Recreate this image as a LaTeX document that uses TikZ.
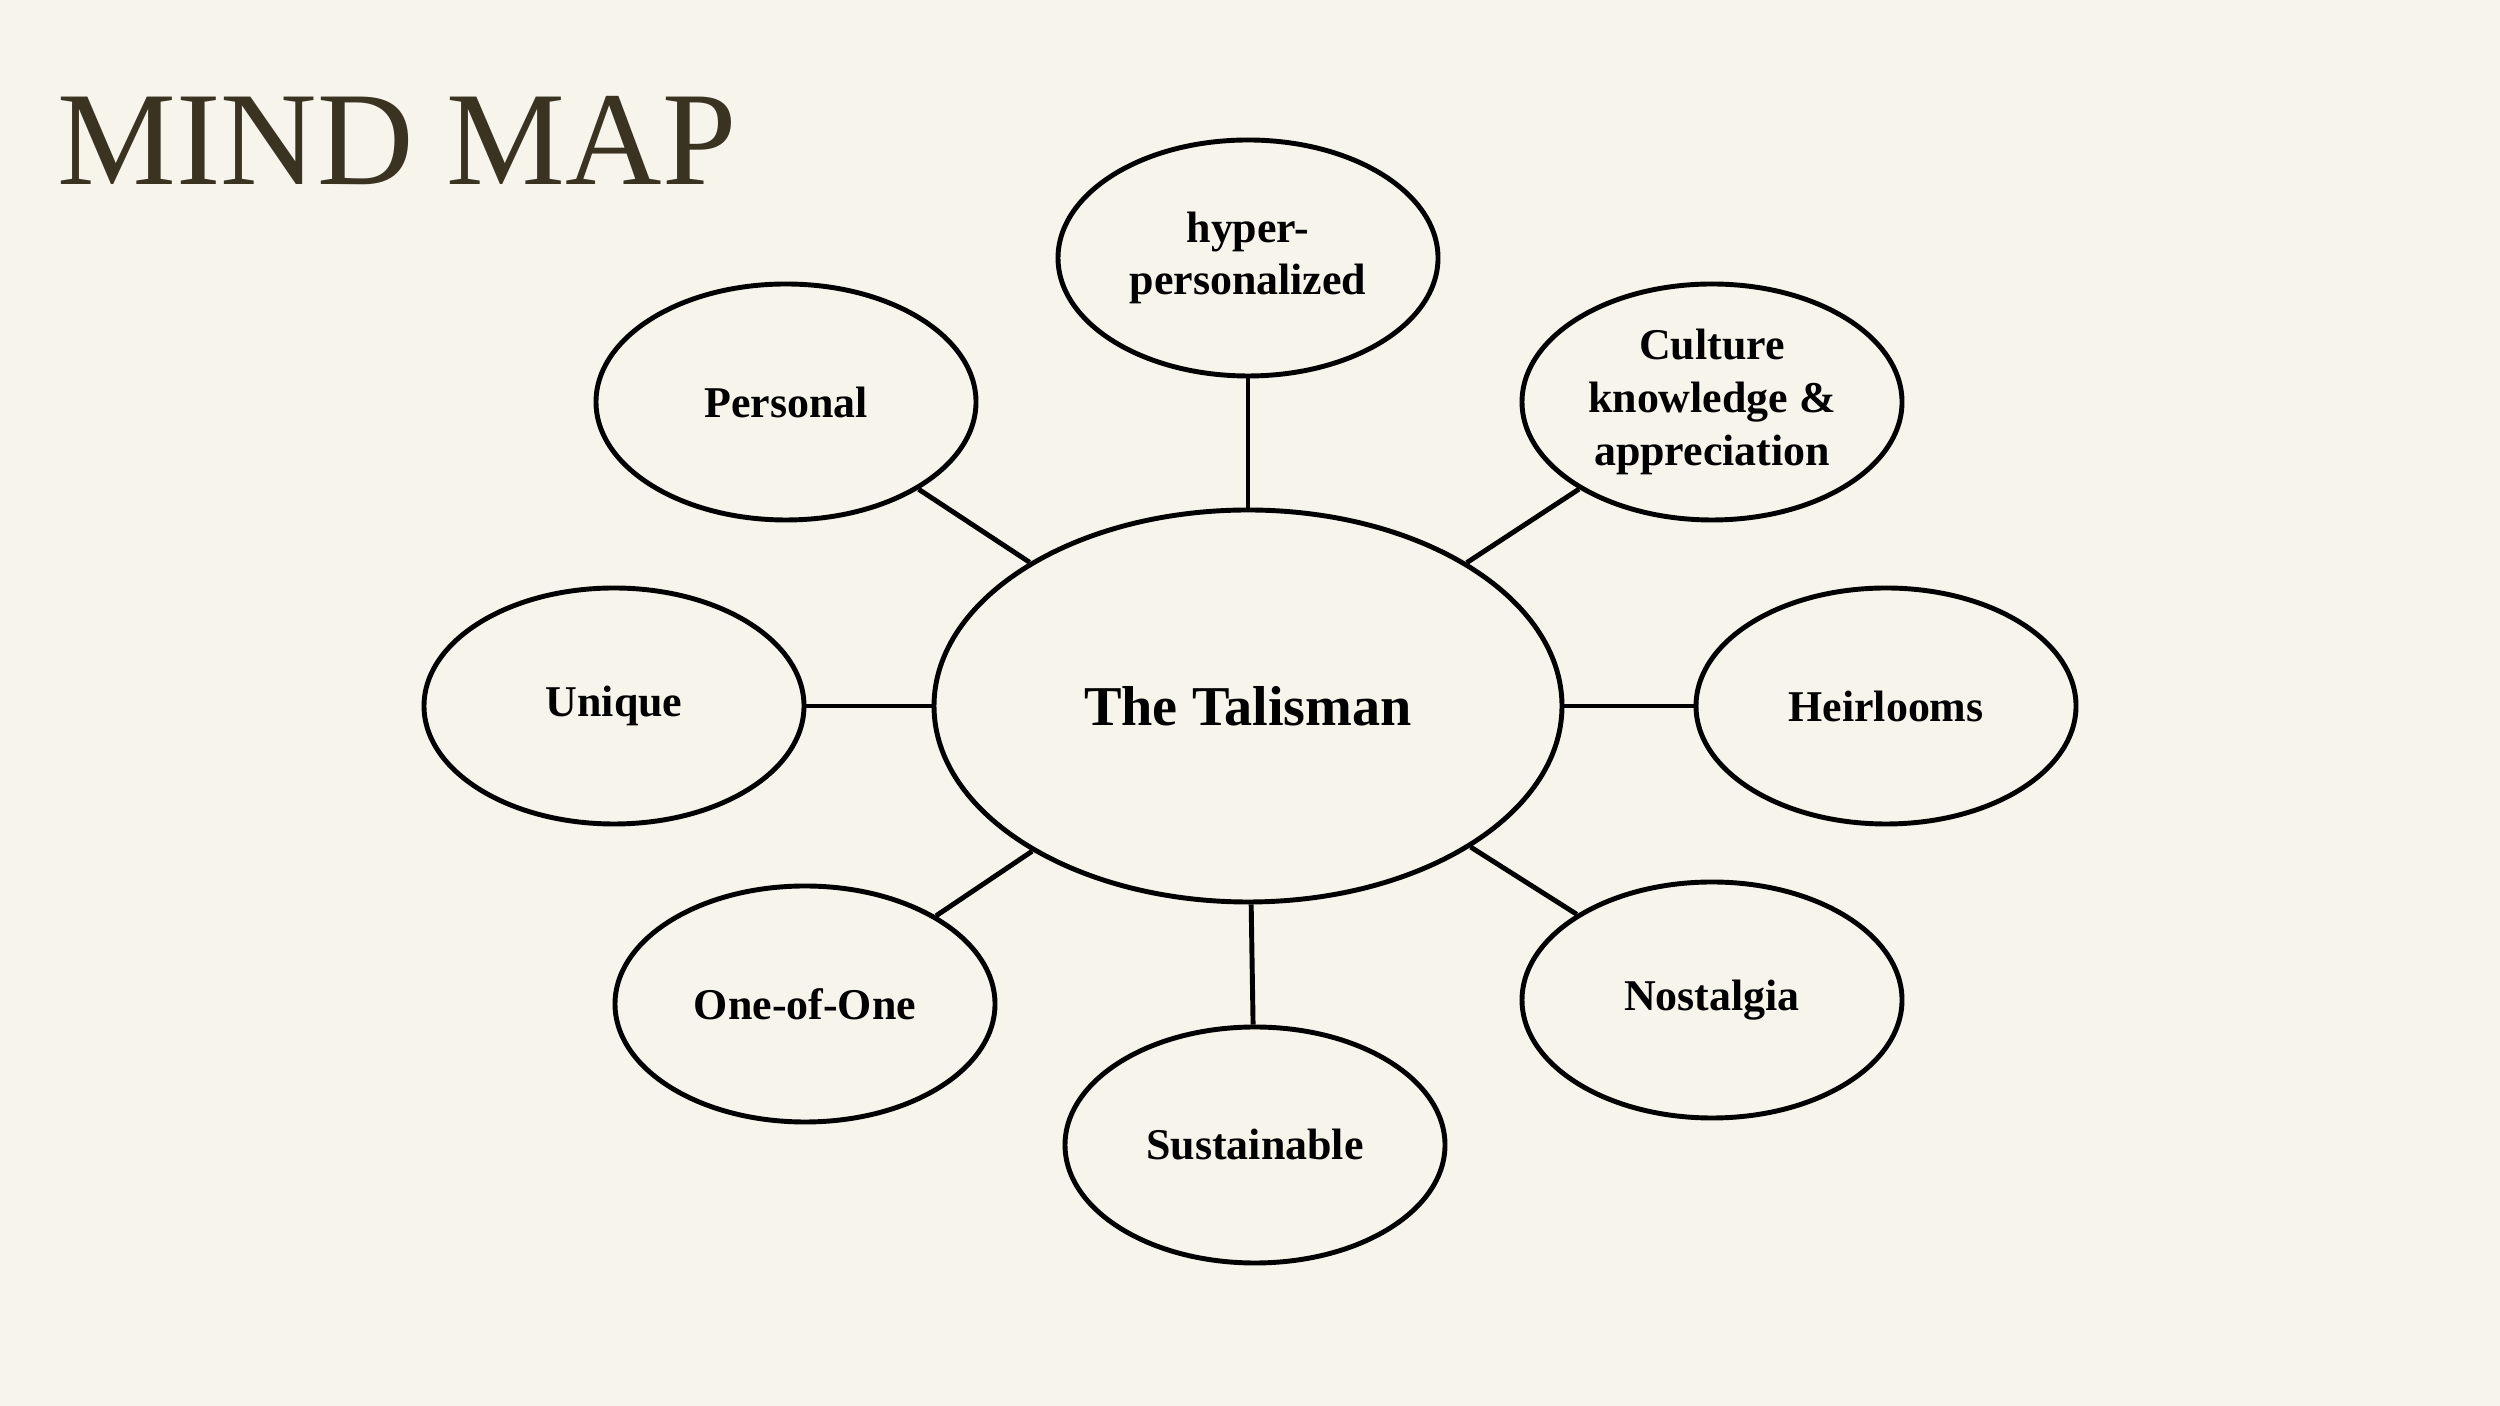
\documentclass[tikz,border=0pt]{standalone}
\usepackage{fontspec}
\setmainfont{Liberation Serif}
\usetikzlibrary{shapes.geometric}
\definecolor{paper}{HTML}{F7F4EC}
\definecolor{titleink}{HTML}{3A3322}
\tikzset{
  blob/.style={ellipse, draw, line width=1.4pt, minimum width=3.8cm, minimum height=2.36cm,
    inner sep=0pt, align=center, font=\bfseries\fontsize{12.5}{15}\selectfont},
  link/.style={line width=1.4pt}
}
\begin{document}
\begin{tikzpicture}
			% Hintergrund
			\fill[paper] (0,0) rectangle (25,14.06);
			\useasboundingbox (0,0) rectangle (25,14.06);

			% Titel
			\node[anchor=west, text=titleink, font=\fontsize{38}{40}\selectfont] (title) at (0.45,12.65) {MIND MAP};

			% Mitte
			\node[blob, minimum width=6.28cm, minimum height=3.92cm, font=\bfseries\fontsize{16}{19}\selectfont] (talisman) at (12.48,7.00) {The Talisman};

			% Aeste
			\node[blob] (hyper) at (12.48,11.48) {hyper-\\personalized};
			\node[blob] (personal) at (7.86,10.04) {Personal};
			\node[blob] (culture) at (17.12,10.04) {Culture\\knowledge \&\\appreciation};
			\node[blob] (unique) at (6.14,7.00) {Unique};
			\node[blob] (heirlooms) at (18.86,7.00) {Heirlooms};
			\node[blob] (oneofone) at (8.05,4.02) {One-of-One};
			\node[blob] (sustainable) at (12.55,2.61) {Sustainable};
			\node[blob] (nostalgia) at (17.12,4.06) {Nostalgia};

			% Verbindungen
			\foreach \leaf in {hyper,personal,culture,unique,heirlooms,oneofone,sustainable,nostalgia}
				\draw[link] (talisman) -- (\leaf);

		\end{tikzpicture}
\end{document}
